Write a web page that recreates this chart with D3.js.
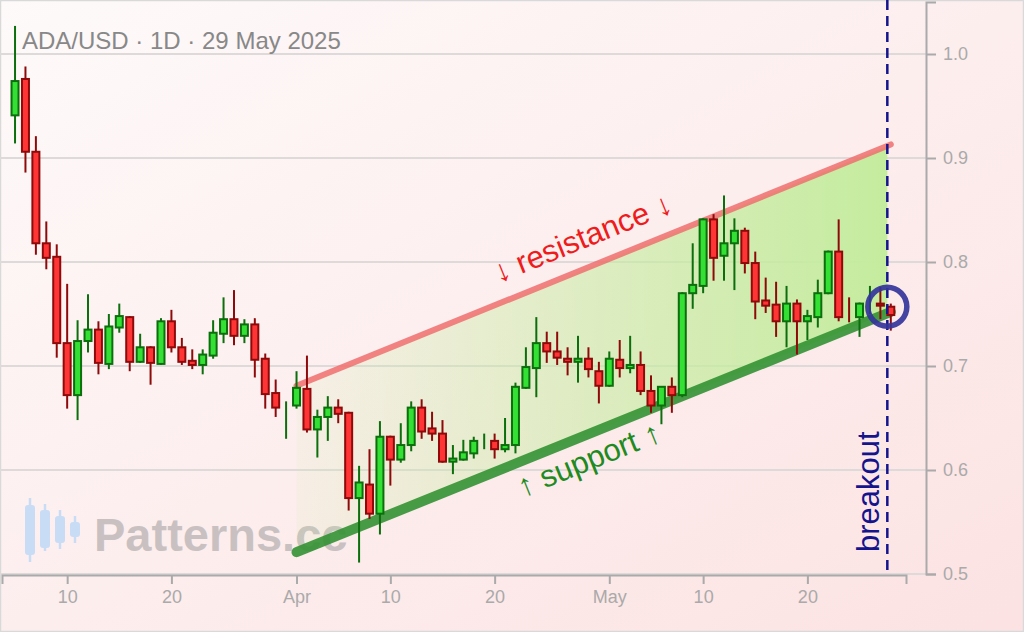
<!DOCTYPE html>
<html><head><meta charset="utf-8">
<script src="https://cdn.jsdelivr.net/npm/d3@7"></script>
<style>html,body{margin:0;padding:0;overflow:hidden;background:#fff}svg{display:block}</style>
</head><body><svg id="c" width="1024" height="632"></svg>
<script>
// ---------- data ----------
const titleText = "ADA/USD · 1D · 29 May 2025";
const firstDay = new Date(2025, 2, 5);
const lastDay = new Date(2025, 4, 28);
const open  = [0.941,0.976,0.906,0.818,0.805,0.722,0.672,0.724,0.735,0.702,0.737,0.747,0.704,0.718,0.702,0.743,0.718,0.705,0.701,0.710,
               0.731,0.745,0.729,0.740,0.707,0.674,0.650,0.662,0.678,0.639,0.651,0.660,0.655,0.573,0.586,0.558,0.632,0.610,0.624,0.660,
               0.640,0.635,0.608,0.610,0.616,0.627,0.628,0.620,0.624,0.679,0.698,0.722,0.714,0.707,0.704,0.707,0.695,0.681,0.706,0.698,
               0.701,0.676,0.662,0.680,0.672,0.770,0.777,0.841,0.806,0.818,0.830,0.799,0.763,0.759,0.743,0.760,0.743,0.747,0.770,0.810,
               0.7545,0.747,0.760,0.760,0.757];
const high  = [1.027,0.988,0.921,0.839,0.817,0.779,0.744,0.769,0.743,0.750,0.760,0.748,0.731,0.719,0.746,0.754,0.727,0.716,0.716,0.744,
               0.766,0.773,0.745,0.746,0.712,0.687,0.666,0.695,0.710,0.658,0.671,0.668,0.656,0.604,0.620,0.647,0.633,0.645,0.666,0.668,
               0.656,0.648,0.624,0.629,0.632,0.635,0.635,0.650,0.684,0.718,0.747,0.733,0.733,0.718,0.729,0.718,0.704,0.714,0.725,0.729,
               0.714,0.691,0.680,0.689,0.771,0.818,0.842,0.846,0.864,0.842,0.833,0.810,0.785,0.781,0.777,0.764,0.754,0.783,0.811,0.841,
               0.766,0.761,0.777,0.776,0.760];
const low   = [0.914,0.886,0.807,0.793,0.708,0.659,0.648,0.713,0.692,0.697,0.732,0.695,0.703,0.682,0.701,0.713,0.701,0.697,0.692,0.707,
               0.722,0.720,0.722,0.689,0.659,0.651,0.630,0.659,0.636,0.612,0.628,0.645,0.561,0.511,0.553,0.538,0.585,0.607,0.618,0.630,
               0.628,0.607,0.596,0.609,0.611,0.620,0.611,0.617,0.616,0.678,0.670,0.703,0.701,0.691,0.684,0.689,0.664,0.680,0.689,0.693,
               0.672,0.655,0.644,0.655,0.670,0.755,0.770,0.782,0.782,0.773,0.789,0.745,0.751,0.728,0.718,0.711,0.725,0.737,0.769,0.743,
               0.742,0.728,0.750,0.745,0.734];
const close = [0.974,0.906,0.818,0.804,0.722,0.672,0.724,0.735,0.703,0.738,0.748,0.704,0.718,0.703,0.743,0.718,0.704,0.701,0.711,0.732,
               0.745,0.729,0.740,0.706,0.673,0.660,0.650,0.679,0.639,0.651,0.660,0.654,0.573,0.588,0.558,0.632,0.610,0.624,0.660,0.637,
               0.635,0.608,0.611,0.617,0.628,0.627,0.620,0.624,0.680,0.699,0.722,0.714,0.708,0.704,0.707,0.697,0.681,0.707,0.698,0.701,
               0.676,0.662,0.680,0.672,0.770,0.778,0.841,0.804,0.818,0.830,0.799,0.762,0.758,0.743,0.760,0.743,0.748,0.770,0.810,0.747,
               0.754,0.760,0.760,0.758,0.749];
const yTickValues = [0.5, 0.6, 0.7, 0.8, 0.9, 1.0];
const xTickDates = [new Date(2025,2,10), new Date(2025,2,20), new Date(2025,3,1), new Date(2025,3,10),
                    new Date(2025,3,20), new Date(2025,4,1), new Date(2025,4,10), new Date(2025,4,20)];
const xTickLabels = ["10", "20", "Apr", "10", "20", "May", "10", "20"];
const supportPts = [{date: new Date(2025,3,1), value: 0.521}, {date: new Date(2025,4,28), value: 0.752}];
const resistancePts = [{date: new Date(2025,3,1), value: 0.681}, {date: new Date(2025,4,28), value: 0.913}];
const breakoutDate = new Date(2025, 4, 27, 16);
const breakoutLevel = 0.757;
const xDomain = [new Date(2025, 2, 3, 18), new Date(2025, 4, 29, 11)];
const yDomain = [0.5, 1.05];

const dates = d3.timeDay.range(firstDay, d3.timeDay.offset(lastDay, 1));
const candles = dates.map((d, i) => ({date: d, o: open[i], h: high[i], l: low[i], c: close[i]}));

// ---------- layout ----------
const W = 1024, H = 632;
const svg = d3.select("#c");
const x = d3.scaleTime().domain(xDomain).range([2, 906]);
const y = d3.scaleLinear().domain(yDomain).range([574, 2]);
const FONT = "'Liberation Sans', Arial, Helvetica, sans-serif";

const defs = svg.append("defs");
const bg = defs.append("linearGradient").attr("id", "bg").attr("x1", 0).attr("y1", 0).attr("x2", 1).attr("y2", 1);
bg.append("stop").attr("offset", 0).attr("stop-color", "#fefafa");
bg.append("stop").attr("offset", 1).attr("stop-color", "#fce2e2");
svg.append("rect").attr("width", W).attr("height", H).attr("fill", "url(#bg)");
svg.append("rect").attr("x", 0.5).attr("y", 0.5).attr("width", W - 1).attr("height", H - 1)
  .attr("fill", "none").attr("stroke", "#d9d9d9").attr("stroke-width", 1.5);

// gridlines
svg.append("g").selectAll("line").data(yTickValues).join("line")
  .attr("x1", 0).attr("x2", 926).attr("y1", d => y(d)).attr("y2", d => y(d))
  .attr("stroke", "#dedada").attr("stroke-width", 2);

// watermark
const wm = svg.append("g");
const logo = [{cx: 30, w1: 498, b1: 505, b2: 555, w2: 562}, {cx: 45, w1: 504, b1: 510, b2: 548, w2: 551},
              {cx: 60, w1: 510, b1: 516, b2: 543, w2: 549}, {cx: 75, w1: 516, b1: 522, b2: 537, w2: 543}];
logo.forEach(k => {
  wm.append("line").attr("x1", k.cx).attr("x2", k.cx).attr("y1", k.w1).attr("y2", k.w2)
    .attr("stroke", "#c8dcf6").attr("stroke-width", 2.5);
  wm.append("rect").attr("x", k.cx - 5).attr("y", k.b1).attr("width", 10).attr("height", k.b2 - k.b1)
    .attr("rx", 3).attr("fill", "#c8dcf6");
});
wm.append("text").attr("x", 94).attr("y", 551).text("Patterns.cc")
  .attr("font-family", FONT).attr("font-weight", "bold").attr("font-size", 47).attr("fill", "#c9c1c1");

// channel fill
const supAt = d3.scaleTime().domain(supportPts.map(p => p.date)).range(supportPts.map(p => p.value));
const resAt = d3.scaleTime().domain(resistancePts.map(p => p.date)).range(resistancePts.map(p => p.value));
const fillPts = [
  [x(resistancePts[0].date), y(resistancePts[0].value)],
  [x(breakoutDate), y(resAt(breakoutDate))],
  [x(breakoutDate), y(supAt(breakoutDate))],
  [x(supportPts[0].date), y(supportPts[0].value)]
];
const fg = defs.append("linearGradient").attr("id", "fillg").attr("gradientUnits", "userSpaceOnUse")
  .attr("x1", x(supportPts[0].date)).attr("y1", 0).attr("x2", x(breakoutDate)).attr("y2", 0);
fg.append("stop").attr("offset", 0).attr("stop-color", "#c4ec9e").attr("stop-opacity", 0.1);
fg.append("stop").attr("offset", 1).attr("stop-color", "#c4ec9e").attr("stop-opacity", 1);
svg.append("polygon").attr("points", fillPts.map(p => p.join(",")).join(" ")).attr("fill", "url(#fillg)");

// trend lines
const line = d3.line().x(d => x(d.date)).y(d => y(d.value));
svg.append("path").attr("d", line(resistancePts)).attr("fill", "none")
  .attr("stroke", "#f06e6e").attr("stroke-opacity", 0.85).attr("stroke-width", 6).attr("stroke-linecap", "round");
svg.append("path").attr("d", line(supportPts)).attr("fill", "none")
  .attr("stroke", "#2f8f2f").attr("stroke-opacity", 0.88).attr("stroke-width", 10).attr("stroke-linecap", "round");

// channel labels
function lineLabel(pts, t, dist, txt, color) {
  const x0 = x(pts[0].date), y0 = y(pts[0].value), x1 = x(pts[1].date), y1 = y(pts[1].value);
  const ang = Math.atan2(y1 - y0, x1 - x0) * 180 / Math.PI;
  const px = x0 + (x1 - x0) * t, py = y0 + (y1 - y0) * t;
  svg.append("text").attr("transform", `translate(${px},${py}) rotate(${ang})`)
    .attr("x", 0).attr("y", dist + 10).attr("text-anchor", "middle")
    .attr("font-family", FONT).attr("font-size", 31).attr("fill", color).text(txt);
}
lineLabel(resistancePts, 0.5, -29, "↓ resistance ↓", "#ee1c1c");
lineLabel(supportPts, 0.477, 24, "↑ support ↑", "#1f8a1f");

// candles
const cg = svg.append("g");
candles.forEach(k => {
  const up = k.c >= k.o;
  const stroke = up ? "#0c6e0c" : "#8e0a0a";
  const fill = up ? "#33e033" : "#ff3535";
  const cx = x(k.date);
  cg.append("line").attr("x1", cx).attr("x2", cx).attr("y1", y(k.h)).attr("y2", y(k.l))
    .attr("stroke", stroke).attr("stroke-width", 2);
  if (Math.abs(k.c - k.o) >= 0.001) {
    const top = y(Math.max(k.o, k.c)), bot = y(Math.min(k.o, k.c));
    cg.append("rect").attr("x", cx - 3.5).attr("y", top).attr("width", 7).attr("height", bot - top)
      .attr("fill", fill).attr("stroke", stroke).attr("stroke-width", 2);
  }
});

// breakout
svg.append("line").attr("x1", x(breakoutDate)).attr("x2", x(breakoutDate)).attr("y1", 0).attr("y2", 574)
  .attr("stroke", "#14148c").attr("stroke-width", 2.5).attr("stroke-dasharray", "10,6");
svg.append("text").attr("transform", `translate(${x(breakoutDate) - 8},552) rotate(-90)`)
  .attr("font-family", FONT).attr("font-size", 31).attr("fill", "#14148c").text("breakout");
svg.append("circle").attr("cx", x(breakoutDate)).attr("cy", y(breakoutLevel)).attr("r", 19.5)
  .attr("fill", "none").attr("stroke", "#34349a").attr("stroke-opacity", 0.92).attr("stroke-width", 5.5);

// axes
const xAxis = d3.axisBottom(x).tickValues(xTickDates).tickFormat((d, i) => xTickLabels[i]).tickSize(9).tickSizeOuter(9).tickPadding(6);
const gx = svg.append("g").attr("transform", "translate(0,575)").call(xAxis);
const yAxis = d3.axisRight(y).tickValues(yTickValues).tickFormat(d3.format(".1f")).tickSize(10).tickSizeOuter(10).tickPadding(7);
const gy = svg.append("g").attr("transform", "translate(926,0)").call(yAxis);
[gx, gy].forEach(g => {
  g.selectAll("path, line").attr("stroke", "#aaaaaa").attr("stroke-width", 2);
  g.selectAll("text").attr("fill", "#aaaaaa").attr("font-family", FONT).attr("font-size", 18);
});

// title
svg.append("text").attr("x", 22).attr("y", 49).text(titleText)
  .attr("font-family", FONT).attr("font-size", 24).attr("fill", "#888888");
</script></body></html>
